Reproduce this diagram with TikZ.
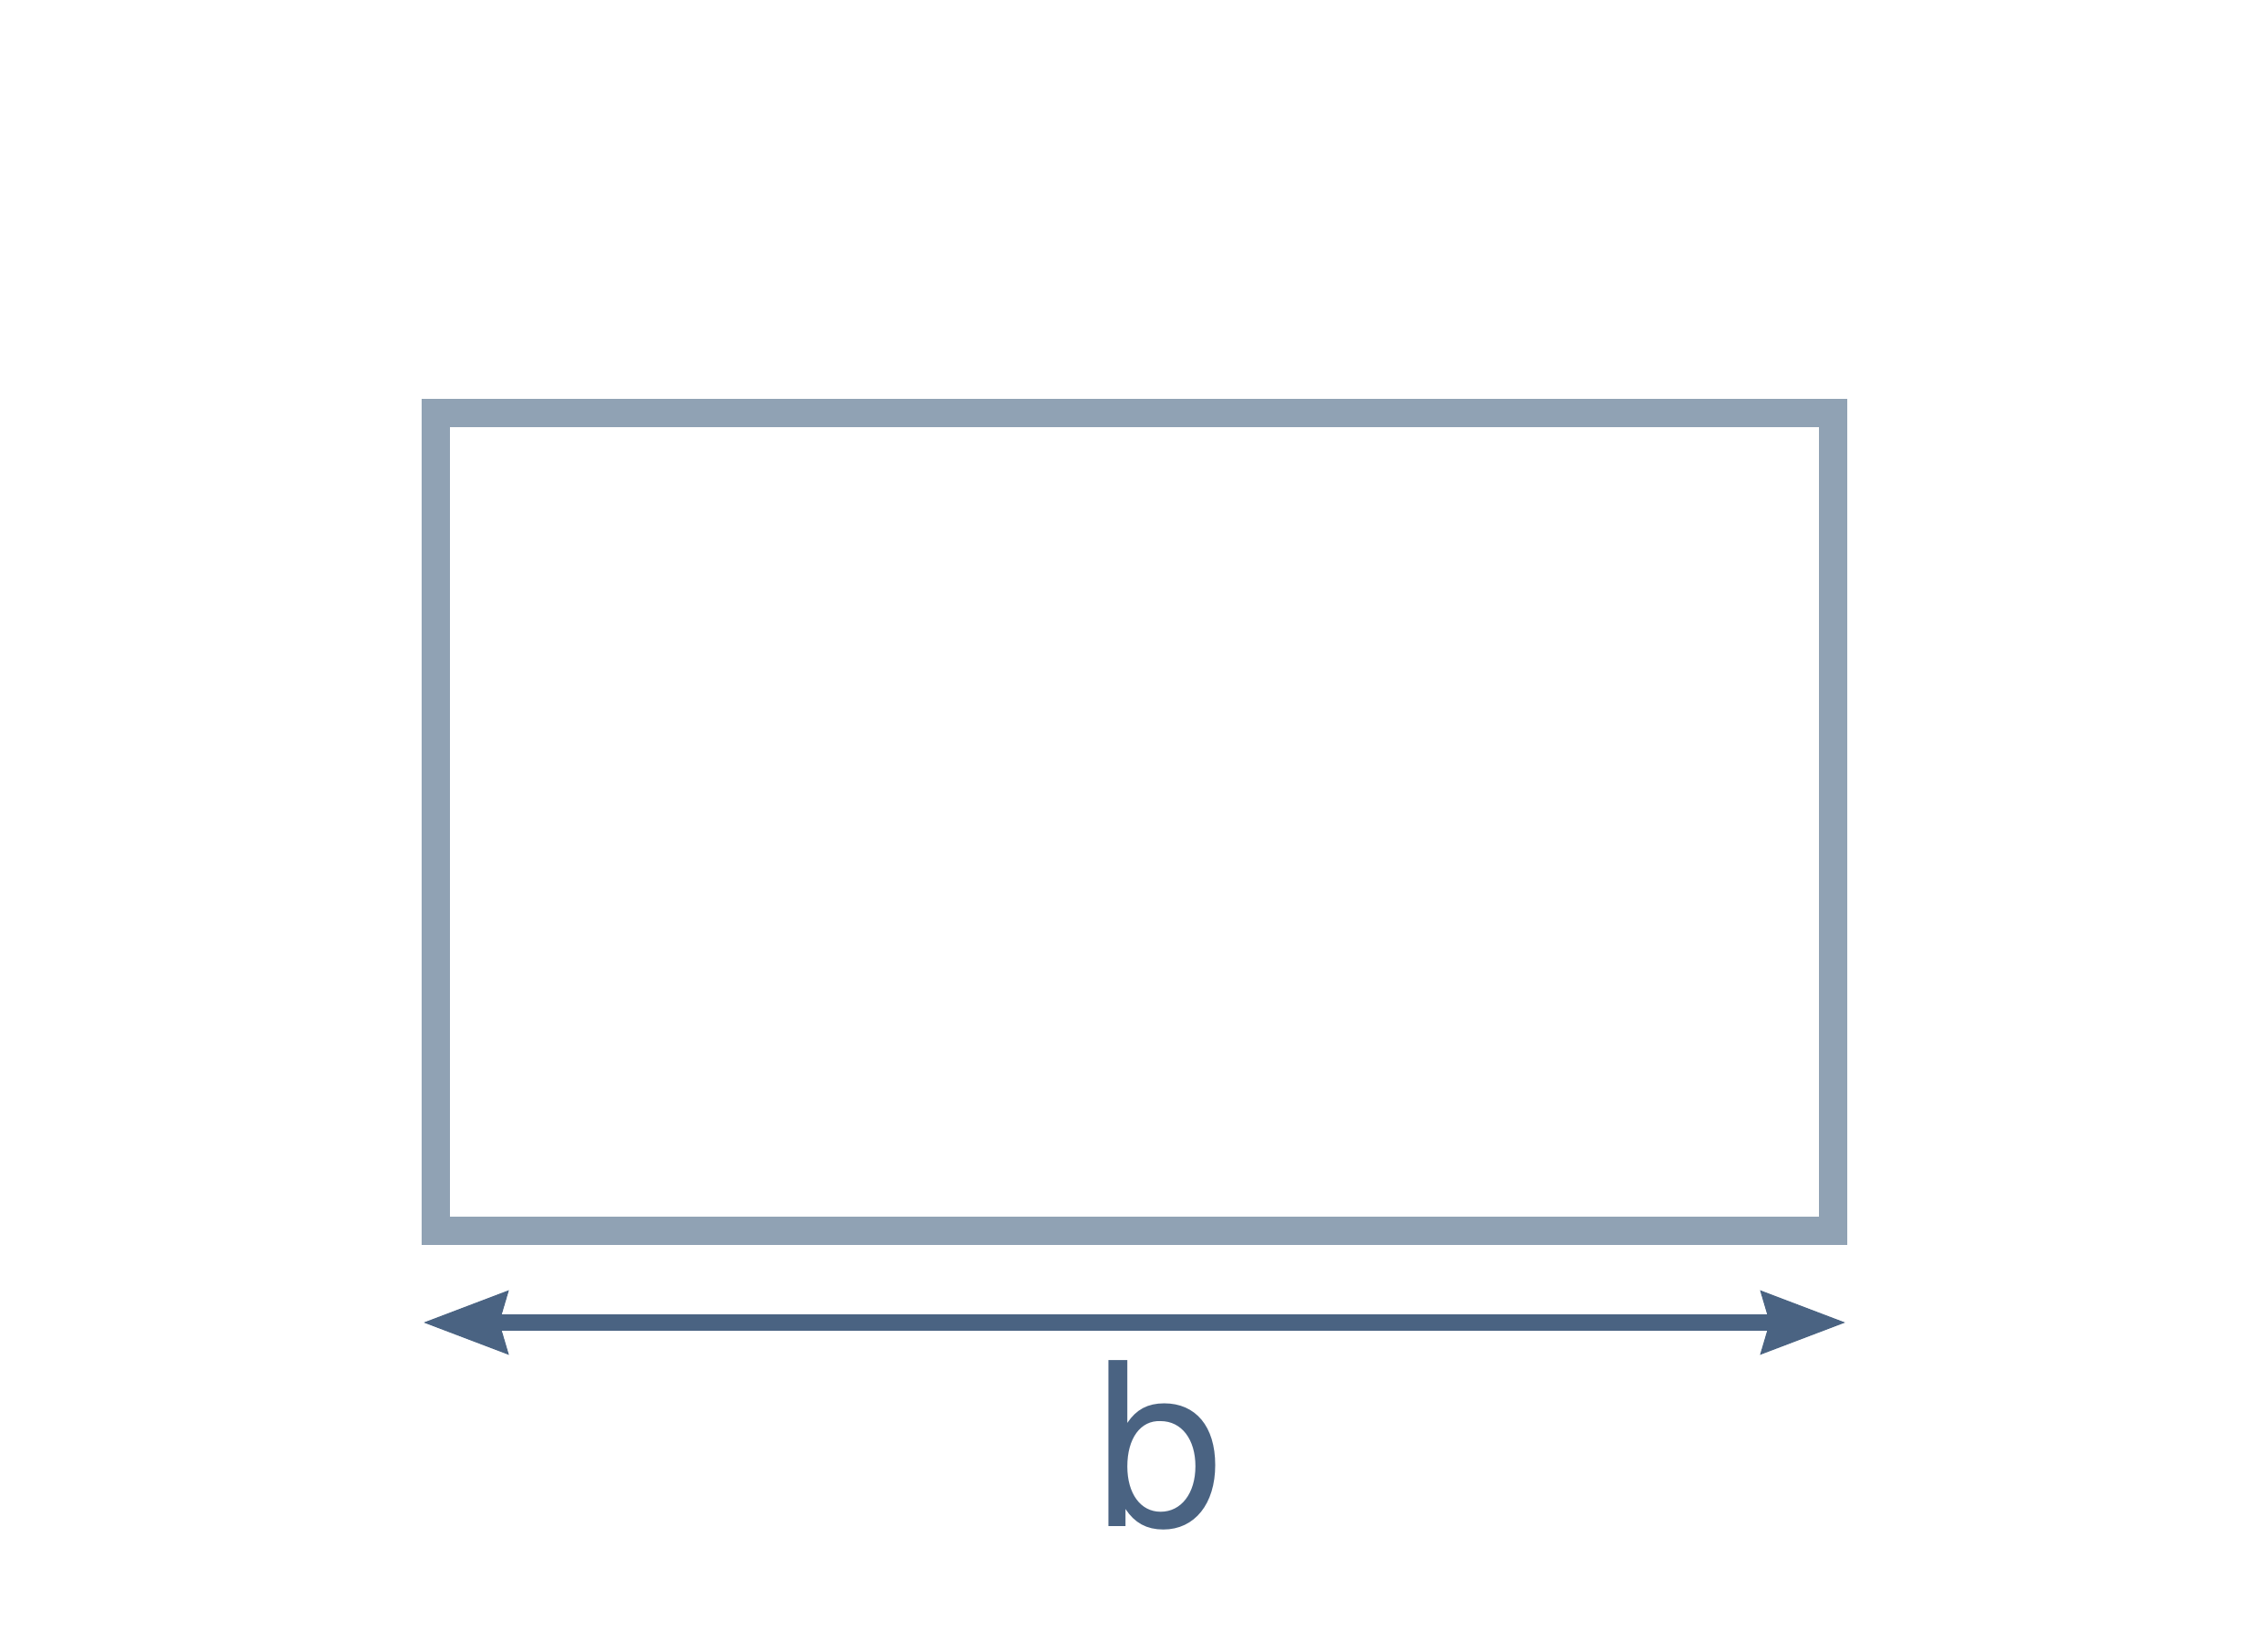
\documentclass[tikz,border=0pt]{standalone}
\usepackage{fontspec}
\setmainfont{TeX Gyre Heros}
\usetikzlibrary{arrows.meta}
\definecolor{plategray}{HTML}{90A2B4}
\definecolor{dimblue}{HTML}{4A6382}
\tikzset{
    dimtip/.tip={Stealth[length=0.92cm, width=0.66cm, inset=0.08cm]},
}
\begin{document}
\begin{tikzpicture}
        \useasboundingbox (0, 0) rectangle (24.85, 17.99);
        \node (plate) at (12.43, 8.985) [draw=plategray, line width=0.31cm, minimum width=15.31cm, minimum height=8.96cm, inner sep=0pt] {};
        \coordinate (bL) at (4.63, 3.50);
        \coordinate (bR) at (20.23, 3.50);
        \node (b) at (12.71, 1.26) [anchor=base, text=dimblue, inner sep=0pt] {\fontsize{71}{80}\selectfont b};
        \draw[dimblue, line width=0.18cm, dimtip-dimtip] (bL) -- (bR);
    \end{tikzpicture}
\end{document}
